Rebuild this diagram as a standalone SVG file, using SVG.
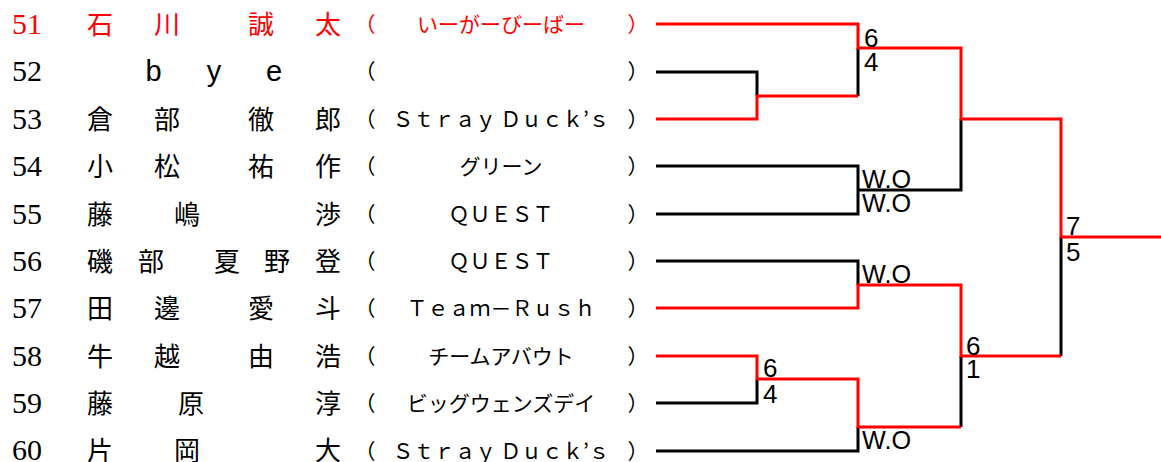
<svg xmlns="http://www.w3.org/2000/svg" width="1161" height="462" viewBox="0 0 1161 462">
<style>
.num{font-family:"Liberation Serif",serif;font-size:30px}
.nm{font-family:"Noto Sans CJK JP",sans-serif;font-size:26px;text-anchor:middle}
.lat{font-family:"Liberation Sans",sans-serif;font-size:29px;text-anchor:middle}
.tm{font-family:"Noto Sans CJK JP",sans-serif;font-size:21px;text-anchor:middle}
.p{font-family:"Noto Sans CJK JP",sans-serif;font-size:21px;text-anchor:middle}
.red{fill:#ff0000}
.blk{fill:#000}
.sc{font-family:"Liberation Sans",sans-serif;font-size:26px;fill:#000}
.lb{fill:none;stroke:#000;stroke-width:3}
.lr{fill:none;stroke:#ff0000;stroke-width:3}
</style>
<rect width="1161" height="462" fill="#fff"/>
<g id="p51" class="red">
<text class="num" x="12" y="34">51</text>
<text class="nm" y="34"><tspan x="100">石</tspan><tspan x="167">川</tspan><tspan x="261">誠</tspan><tspan x="328">太</tspan></text>
<text class="p" x="365" y="32">（</text><text class="tm" x="501" y="32">いーがーびーばー</text><text class="p" x="638" y="32">）</text>
</g>
<g id="p52" class="blk">
<text class="num" x="12" y="81.4">52</text>
<text class="lat" y="81.4"><tspan x="153.5">b</tspan><tspan x="214">y</tspan><tspan x="274">e</tspan></text>
<text class="p" x="365" y="79.4">（</text><text class="p" x="638" y="79.4">）</text>
</g>
<g id="p53" class="blk">
<text class="num" x="12" y="128.8">53</text>
<text class="nm" y="128.8"><tspan x="100">倉</tspan><tspan x="167">部</tspan><tspan x="261">徹</tspan><tspan x="328">郎</tspan></text>
<text class="p" x="365" y="126.8">（</text><text class="tm" x="501" y="126.8" textLength="217" lengthAdjust="spacing">Ｓｔｒａｙ Ｄｕｃｋ’ｓ</text><text class="p" x="638" y="126.8">）</text>
</g>
<g id="p54" class="blk">
<text class="num" x="12" y="176.2">54</text>
<text class="nm" y="176.2"><tspan x="100">小</tspan><tspan x="167">松</tspan><tspan x="261">祐</tspan><tspan x="328">作</tspan></text>
<text class="p" x="365" y="174.2">（</text><text class="tm" x="501" y="174.2">グリーン</text><text class="p" x="638" y="174.2">）</text>
</g>
<g id="p55" class="blk">
<text class="num" x="12" y="223.6">55</text>
<text class="nm" y="223.6"><tspan x="100">藤</tspan><tspan x="187">嶋</tspan><tspan x="328">渉</tspan></text>
<text class="p" x="365" y="221.6">（</text><text class="tm" x="501" y="221.6">ＱＵＥＳＴ</text><text class="p" x="638" y="221.6">）</text>
</g>
<g id="p56" class="blk">
<text class="num" x="12" y="271">56</text>
<text class="nm" y="271"><tspan x="100">磯</tspan><tspan x="151">部</tspan><tspan x="227">夏</tspan><tspan x="277">野</tspan><tspan x="328">登</tspan></text>
<text class="p" x="365" y="269">（</text><text class="tm" x="501" y="269">ＱＵＥＳＴ</text><text class="p" x="638" y="269">）</text>
</g>
<g id="p57" class="blk">
<text class="num" x="12" y="318.4">57</text>
<text class="nm" y="318.4"><tspan x="100">田</tspan><tspan x="167">邊</tspan><tspan x="261">愛</tspan><tspan x="328">斗</tspan></text>
<text class="p" x="365" y="316.4">（</text><text class="tm" x="501" y="316.4">Ｔｅａｍ－Ｒｕｓｈ</text><text class="p" x="638" y="316.4">）</text>
</g>
<g id="p58" class="blk">
<text class="num" x="12" y="365.8">58</text>
<text class="nm" y="365.8"><tspan x="100">牛</tspan><tspan x="167">越</tspan><tspan x="261">由</tspan><tspan x="328">浩</tspan></text>
<text class="p" x="365" y="363.8">（</text><text class="tm" x="501" y="363.8">チームアバウト</text><text class="p" x="638" y="363.8">）</text>
</g>
<g id="p59" class="blk">
<text class="num" x="12" y="413.2">59</text>
<text class="nm" y="413.2"><tspan x="100">藤</tspan><tspan x="191">原</tspan><tspan x="328">淳</tspan></text>
<text class="p" x="365" y="411.2">（</text><text class="tm" x="501" y="411.2">ビッグウェンズデイ</text><text class="p" x="638" y="411.2">）</text>
</g>
<g id="p60" class="blk">
<text class="num" x="12" y="460">60</text>
<text class="nm" y="460"><tspan x="100">片</tspan><tspan x="187">岡</tspan><tspan x="328">大</tspan></text>
<text class="p" x="365" y="458.6">（</text><text class="tm" x="501" y="458.6" textLength="217" lengthAdjust="spacing">Ｓｔｒａｙ Ｄｕｃｋ’ｓ</text><text class="p" x="638" y="458.6">）</text>
</g>
<g id="connectors">
<path class="lb" d="M858,48 V96"/>
<path class="lb" d="M656,72 H757 V96"/>
<path class="lb" d="M656,166 H858 V214 H656"/>
<path class="lb" d="M858,190 H961 V119"/>
<path class="lb" d="M1061,237 V356"/>
<path class="lb" d="M656,261 H858 V285"/>
<path class="lb" d="M961,356 V427"/>
<path class="lb" d="M757,379 V403 H656"/>
<path class="lb" d="M858,427 V451 H656"/>
<path class="lr" d="M656,24 H858 V48 H961 V119 H1061 V237 H1161"/>
<path class="lr" d="M656,119 H757 V96 H858"/>
<path class="lr" d="M656,308 H858 V285 H961 V356 H1061"/>
<path class="lr" d="M656,356 H757 V379 H858 V427 H961"/>
</g>
<g id="scores" class="sc">
<text x="864" y="47">6</text><text x="864" y="71">4</text>
<text x="862" y="188" textLength="49" lengthAdjust="spacingAndGlyphs">W.O</text><text x="862" y="212" textLength="49" lengthAdjust="spacingAndGlyphs">W.O</text>
<text x="862" y="283" textLength="49" lengthAdjust="spacingAndGlyphs">W.O</text>
<text x="763" y="377">6</text><text x="763" y="403">4</text>
<text x="862" y="449" textLength="49" lengthAdjust="spacingAndGlyphs">W.O</text>
<text x="966" y="355">6</text><text x="966" y="378">1</text>
<text x="1066" y="235">7</text><text x="1066" y="261">5</text>
</g>
</svg>
